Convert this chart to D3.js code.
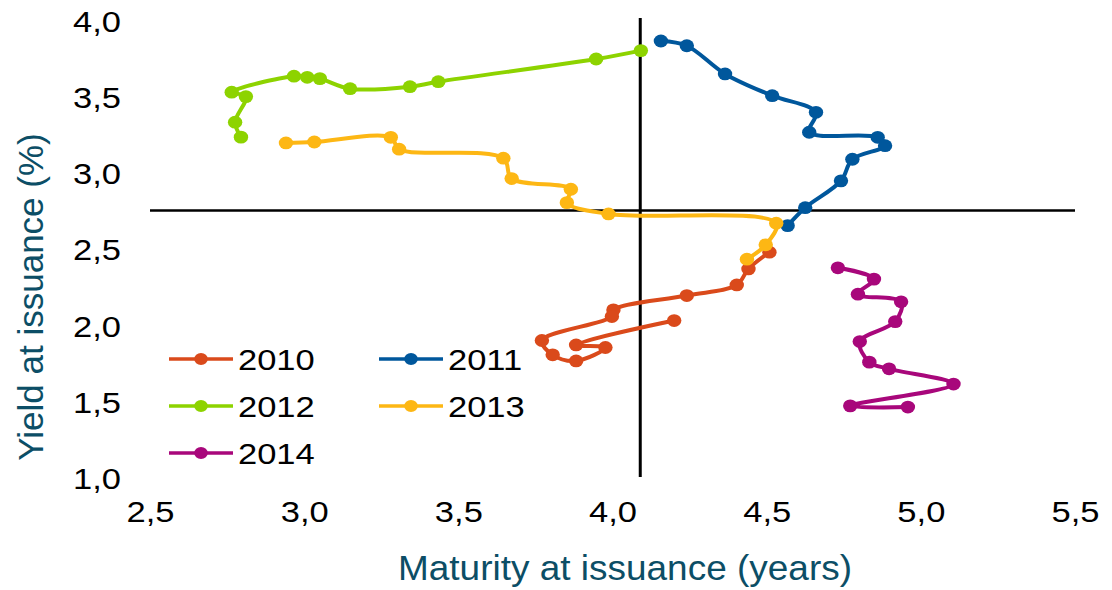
<!DOCTYPE html>
<html>
<head>
<meta charset="utf-8">
<script src="https://cdn.jsdelivr.net/npm/d3@7"></script>
<style>
  html, body { margin: 0; padding: 0; background: #fff; }
  svg { display: block; }
  text { font-family: "Liberation Sans", Arial, sans-serif; }
</style>
</head>
<body>
<svg id="chart" width="1112" height="590"></svg>
<script>
// ---- data ----
const years = ["2010", "2011", "2012", "2013", "2014"];

const x2010 = [4.509, 4.441, 4.403, 4.241, 4.003, 3.998, 3.771, 3.806, 3.882, 3.977, 3.882, 4.200];
const y2010 = [2.476, 2.366, 2.261, 2.191, 2.097, 2.053, 1.896, 1.802, 1.762, 1.850, 1.867, 2.027];

const x2011 = [4.157, 4.241, 4.365, 4.518, 4.660, 4.638, 4.860, 4.884, 4.778, 4.741, 4.625, 4.568];
const y2011 = [3.862, 3.831, 3.646, 3.503, 3.394, 3.263, 3.230, 3.175, 3.086, 2.944, 2.768, 2.650];

const x2012 = [4.092, 3.947, 3.435, 3.343, 3.149, 3.051, 3.010, 2.967, 2.765, 2.811, 2.776, 2.795];
const y2012 = [3.799, 3.744, 3.595, 3.562, 3.549, 3.615, 3.624, 3.631, 3.526, 3.497, 3.329, 3.231];

const x2013 = [2.941, 3.033, 3.281, 3.308, 3.646, 3.673, 3.865, 3.852, 3.987, 4.531, 4.497, 4.436];
const y2013 = [3.193, 3.199, 3.230, 3.152, 3.093, 2.959, 2.889, 2.801, 2.727, 2.666, 2.524, 2.430];

const x2014 = [4.731, 4.848, 4.796, 4.936, 4.917, 4.802, 4.833, 4.897, 5.106, 4.771, 4.958];
const y2014 = [2.373, 2.299, 2.200, 2.150, 2.020, 1.889, 1.754, 1.710, 1.610, 1.467, 1.459];

const xTicks = [2.5, 3.0, 3.5, 4.0, 4.5, 5.0, 5.5];
const yTicks = [1.0, 1.5, 2.0, 2.5, 3.0, 3.5, 4.0];
const xCross = 4.09;   // where the vertical axis line crosses
const yCross = 2.75;   // where the horizontal axis line crosses

const xTitle = "Maturity at issuance (years)";
const yTitle = "Yield at issuance (%)";

// ---- styling ----
const seriesColors = ["#DA4A1B", "#00579C", "#8DD300", "#FDB714", "#A8077B"];
const titleColor = "#0C4E66";
const stretch = 1.15;

const series = [
  {name: years[0], xs: x2010, ys: y2010},
  {name: years[1], xs: x2011, ys: y2011},
  {name: years[2], xs: x2012, ys: y2012},
  {name: years[3], xs: x2013, ys: y2013},
  {name: years[4], xs: x2014, ys: y2014}
].map((s, i) => ({...s, color: seriesColors[i], pts: s.xs.map((v, j) => [v, s.ys[j]])}));

const svg = d3.select("#chart");

const x = d3.scaleLinear().domain([2.5, 5.5]).range([150, 1075]);
const y = d3.scaleLinear().domain([1.0, 4.0]).range([477, 20]);
const fmt = d => d.toFixed(1).replace(".", ",");

// axis crossing lines
svg.append("line")
  .attr("x1", x(2.5)).attr("x2", x(5.5))
  .attr("y1", y(yCross)).attr("y2", y(yCross))
  .attr("stroke", "#000").attr("stroke-width", 2.5);
svg.append("line")
  .attr("x1", x(xCross)).attr("x2", x(xCross))
  .attr("y1", y(4.0) - 2).attr("y2", y(1.0))
  .attr("stroke", "#000").attr("stroke-width", 3);

// x axis labels
const gx = svg.append("g").attr("transform", `translate(0,${y(1.0)})`)
  .call(d3.axisBottom(x).tickValues(xTicks).tickFormat(fmt).tickSize(0));
gx.select(".domain").remove();
gx.selectAll("text")
  .attr("y", 0).attr("dy", 0)
  .attr("transform", `translate(0,45) scale(${stretch},1)`)
  .attr("font-size", 30).attr("fill", "#000")
  .style("font-family", '"Liberation Sans", Arial, sans-serif');

// y axis labels
const gy = svg.append("g").attr("transform", `translate(${x(2.5)},0)`)
  .call(d3.axisLeft(y).tickValues(yTicks).tickFormat(fmt).tickSize(0));
gy.select(".domain").remove();
gy.selectAll("text")
  .attr("x", 0).attr("dy", "0.38em")
  .attr("text-anchor", "end")
  .attr("transform", `translate(-29,0) scale(${stretch},1)`)
  .attr("font-size", 30).attr("fill", "#000")
  .style("font-family", '"Liberation Sans", Arial, sans-serif');

// axis titles
svg.append("text")
  .attr("x", 625).attr("y", 580)
  .attr("text-anchor", "middle")
  .attr("font-size", 35).attr("fill", titleColor)
  .attr("textLength", 454).attr("lengthAdjust", "spacingAndGlyphs")
  .text(xTitle);
svg.append("text")
  .attr("transform", "translate(43,297) rotate(-90)")
  .attr("text-anchor", "middle")
  .attr("font-size", 35).attr("fill", titleColor)
  .text(yTitle);

// series
const line = d3.line().x(d => x(d[0])).y(d => y(d[1])).curve(d3.curveCatmullRom.alpha(0.5));

const gs = svg.append("g").selectAll("g").data(series).join("g");
gs.append("path")
  .attr("d", d => line(d.pts))
  .attr("fill", "none")
  .attr("stroke", d => d.color)
  .attr("stroke-width", 4)
  .attr("stroke-linejoin", "round")
  .attr("stroke-linecap", "round");
gs.each(function(s) {
  d3.select(this).selectAll("ellipse").data(s.pts).join("ellipse")
    .attr("cx", d => x(d[0])).attr("cy", d => y(d[1]))
    .attr("rx", 7.2).attr("ry", 6.4)
    .attr("fill", s.color);
});

// legend
const legendPos = [[169, 359], [379, 359], [169, 406], [379, 406], [169, 453]];
const lg = svg.append("g").selectAll("g").data(series).join("g")
  .attr("transform", (d, i) => `translate(${legendPos[i][0]},${legendPos[i][1]})`);
lg.append("line")
  .attr("x1", 0).attr("x2", 64).attr("y1", 0).attr("y2", 0)
  .attr("stroke", d => d.color).attr("stroke-width", 3.5);
lg.append("ellipse")
  .attr("cx", 32).attr("cy", 0).attr("rx", 6.8).attr("ry", 6)
  .attr("fill", d => d.color);
lg.append("text")
  .attr("transform", `translate(69,11) scale(${stretch},1)`)
  .attr("font-size", 30).attr("fill", "#000")
  .text(d => d.name);
</script>
</body>
</html>
